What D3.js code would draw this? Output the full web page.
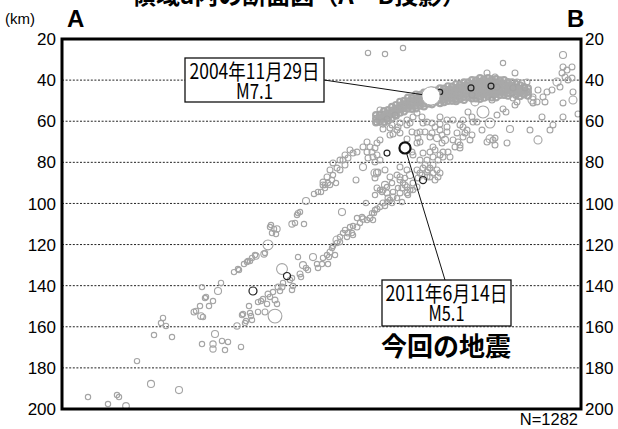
<!DOCTYPE html>
<html>
<head>
<meta charset="utf-8">
<script src="https://cdn.jsdelivr.net/npm/d3@7"></script>
<style>
  html, body { margin: 0; padding: 0; background: #fff; }
  svg { display: block; }
</style>
</head>
<body>
<div id="chart"></div>
<script>
// 領域a内の断面図（A－B投影） — 震源の深さ断面
// 各点は [A からの距離 km, 深さ km, マグニチュード]

var depthTicks = [20, 40, 60, 80, 100, 120, 140, 160, 180, 200];
var gridDepths = [40, 60, 80, 100, 120, 140, 160, 180];

// A側の深い部分
var deepWest = [
  [13,194.2,1.5],[23,197.6,1.5],[27.5,193.2,1.5],[28.5,194.2,1.5],[32,198.5,2.2],[37.5,176.7,1.5],
  [44.5,187.8,2.4],[58.5,190.8,2.4],[46,164,1.5],[50.5,155.7,1.5],[49.5,158.2,1.5],[52,159.6,1.5],
  [55,165,1.5],[66,152.8,1.8],[67,152.3,1.5],[69,149.9,1.5],[69.5,154.8,2.2],[71.5,146,1.5],
  [73.5,149.9,1.5],[75.5,147.5,1.5],[70,140.7,1.5],[78,142.6,2.4],[79.5,138.7,1.5],[70,168.4,1.5],
  [75.5,168.4,2],[75.5,170.8,2],[76.5,163.5,2.4],[80,166.9,1.5],[81.5,171.3,1.5],[83,167.4,1.5],
  [89.5,169.8,1.5],[86,133.4,1.5],[88.5,132.4,1.5],[91,129.5,1.5],[92.5,128.5,1.5],[94,128,1.5],
  [95,126.5,1.5],[97,125.6,2],[101,124.6,2],[103,120.2,3.9],[87.5,159.6,2],[90,154.3,1.5],
  [92,157.2,1.5],[91.5,158.2,1.5],[93.5,149.9,1.5],[94,153.3,1.5],[94.5,154.8,1.5],[95,156.7,1.5],
  [98,152.8,1.5],[98,148,1.5],[99.5,147.5,1.5],[100.5,146.5,1.5],[101.5,152.8,1.8],[102.5,148.9,1.5],
  [103,144.1,1.8],[104,145.5,1.5],[105.5,143.1,1.5],[106.5,147,1.8],[107.5,148.9,1.5],[106.5,154.8,5.6],
  [108,140.7,1.8],[109,142.6,1.5],[110,140.7,1.8],[110.5,138.7,1.5],[110,131.9,4.4],[114,137.2,1.5],
  [115,142.1,1.5],[115.5,140.2,1.5],[115,136.3,1.5],[118,126.1,1.5],[119,134.3,1.8],[119.5,135.8,1.5],
  [120.5,130,2.4],[122,131.4,1.5],[123,132.4,1.5],[125.5,126.1,2.4],[127.5,129.5,1.5],[128,131.4,1.5],
  [104,111.5,1.5],[106,112.4,1.5],[107.5,112.4,2],[105,114.4,1.5],[107,114.9,1.5],[115,110,2],
  [116.5,109.5,1.5],[121,110,1.5],[118,104.7,1.5],[119,104.2,1.5],[117.5,105.6,1.5],[122,98.8,2.4],
  [126,95.4,1.5],[128,94.4,1.5],[101.5,124.1,1.5],[96.5,125.1,1.5],[93,128,1.5],[88,131.9,1.5],
  [72,145.5,1.5],[70.5,155.2,1.5],[90.5,153.8,1.5],[104.5,110.5,1.5]
];

// 中央部（深さ 85〜130 km）
var midSection = [
  [135.5,86.2,1.5],[135,88.6,1.5],[133,90.1,1.5],[131.5,91,1.5],[134,91,1.5],[137,90.1,1.5],
  [129.5,94.4,1.5],[157.5,85.2,2.4],[147,88.6,1.8],[140,104.2,2.4],
  [130,129.5,1.5],[133,129.5,1.5],[133.5,126.1,1.5],[134,123.6,1.8],[135,121.7,1.5],[135.5,120.7,1.5],
  [137.5,117.8,2.9],[139,116.3,1.5],[140.5,114.4,1.5],[142.5,116.3,1.5],[143,114.4,1.8],[145.5,115.4,1.5],
  [145.5,111,1.5],[147.5,111.5,1.8],[149,109.5,1.5],[150.5,107.6,2],[152.5,108.1,1.5],[154,107.1,1.8],
  [155.5,108.1,1.5],[156,104.7,1.5],[157.5,102.7,1.8],[159,101.7,1.5],[160.5,99.8,1.8],[161.5,101.2,1.5],
  [162.5,99.3,1.5],[163,97.4,1.8],[165,99.8,1.5],[165.5,96.9,1.8],[167.5,97.4,1.5],[169,94.9,1.8],
  [168,92.5,1.5],[165.5,94.4,1.5],[161.5,91,2.4],[160,94.4,1.5],[156.5,95.9,1.5],[152,99.8,1.5],
  [170.5,90.1,1.5],[172.5,92,1.8],[173,95.9,1.5],[170,99.3,1.5],[175.5,93.5,1.5],[169,87.1,1.8],
  [171.5,87.6,1.5],[174,86.2,2.4],[144,111.5,1.5],[147.5,107.1,1.5],[150,106.6,1.5],[155,104.7,1.5],
  [156.5,103.2,1.5],[164,98.3,1.5],[162.5,92,1.5],[165,90.1,1.5],[159,93.5,1.5],[137.5,119.2,1.5],
  [132.5,125.1,1.5],[130.5,126.5,1.5],[136.5,125.1,1.5],[139,118.8,1.5],[145,114.4,1.5],[141.5,112.9,1.5],
  [131.5,92.5,1.5]
];

// 今回の地震の周辺（深さ 55〜95 km）
var nearSource = [
  [159,54.5,1.8],[160.5,60.9,2.9],[165,61.8,1.8],[169,60.9,1.8],[172.5,59.4,1.8],[177.5,56,1.8],
  [180,57.9,1.8],[182.5,60.4,1.8],[185,60.9,1.8],[179,65.2,1.8],[177.5,65.7,1.8],[169,65.7,1.8],
  [167.5,64.3,1.8],[164,63.3,1.8],[178,68.2,1.8],[179,70.1,1.8],[185,65.7,1.8],[187.5,68.2,2.4],
  [190,70.6,1.8],[191.5,69.1,2.4],[190.5,75,1.8],[193,75,1.8],[189,64.3,1.8],[192.5,62.8,1.8],
  [195.5,59.4,1.8],[200.5,62.8,1.8],[202.5,64.3,1.8],[205,66.7,1.8],[205.5,60.4,1.8],[203,55.5,1.8],
  [210.5,55.5,5],[206.5,50.6,2.9],[197.5,65.7,1.8],[198,70.1,1.8],[196.5,72.5,1.8],[199,73,1.8],
  [186.5,74,1.8],[185.5,77.4,1.8],[190.5,77.4,1.8],[188,78.9,1.8],[180.5,75.5,1.8],[175,75,1.8],
  [214,60.9,3.9],[212.5,70.1,1.8],[215.5,69.1,1.8],
  [159,69.1,1.8],[157.5,70.6,1.8],[152.5,70.1,1.8],[150.5,72.5,1.8],[154,72.5,1.8],[152.5,75,1.8],
  [155,75,1.8],[155.5,77.4,1.8],[153,77.9,1.8],[156.5,79.8,1.8],[157.5,76.4,1.8],[147.5,75,1.8],
  [145.5,75.5,1.8],[144,74,1.8],[141.5,76.4,1.8],[143,77.9,1.8],[139,78.9,1.8],[135.5,80.3,1.8],
  [137.5,82.8,1.8],[134,83.7,1.8],[132.5,87.1,1.8],[130.5,89.6,1.8],[150.5,82.3,2.4],[158,84.7,1.8],
  [156.5,87.6,1.8],[157.5,92.5,1.8],[160.5,93.5,1.8],[162.5,94.9,1.8],[169,88.6,1.8],[170,92.5,1.8],
  [171.5,91,1.8],[172.5,94.9,1.8],[174,93.5,1.8],
  [177.5,83.7,1.8],[179,85.2,1.8],[180.5,82.8,1.8],[182.5,84.7,1.8],[184,82.8,1.8],[185.5,85.2,1.8],
  [187.5,83.7,1.8],[188,87.1,1.8],[184,87.1,1.8],[182.5,87.1,1.8],[185.5,81.3,1.8],[178,87.6,1.8],
  [175.5,90.1,1.8],[177.5,92,1.8],[181.5,81.3,1.8],[186.5,88.6,1.8],[189,85.2,1.8],[180,86.2,1.8],
  [183,83.7,1.8],
  [162.5,58.9,1.8],[166.5,57,1.8],[168,62.8,1.8],[172.5,61.8,1.8],[165.5,66.2,1.8],[156.5,73,1.8],
  [159,78.9,1.8],[140.5,78.9,1.8],[141.5,81.3,1.8],[139,83.7,1.8],[130.5,91,1.8],[156.5,85.2,2.9],
  [169,82.3,1.8],[172.5,83.7,1.8],[164,87.1,1.8],[161.5,83.7,1.8],[167.5,86.2,1.8],
  [175.5,57.9,1.8],[189,61.4,1.8],[192.5,65.2,1.8],[199,61.8,1.8],[217.5,57,1.8],[220.5,54,1.8],
  [224,63.8,2.4],[227.5,50.6,1.8],[237.5,50.6,1.8],[200.5,67.7,1.8],[204,69.1,1.8],[214,68.6,2.9],
  [184,67.7,1.8],[172.5,68.6,1.8],[164,66.7,1.8],[160.5,63.8,1.8],[157.5,60.4,1.8]
];

// B側（浅い部分）
var eastSide = [
  [170.5,24.4,1.5],[153,26.8,1.5],[161.5,27.3,1.5],[220.5,31.7,1.5],[250.5,27.8,2.4],[250.5,33.6,1.8],
  [252.5,35.1,1.8],[255,33.6,1.8],[250,36.5,1.8],[251.5,38.5,1.8],[253,39.9,1.8],[255,39,1.8],
  [247.5,40.9,2.9],[249,43.4,1.8],[245,44.8,1.8],[255.5,45.8,1.8],[255.5,49.7,2.9],[258,56.5,1.8],
  [250.5,51.1,1.8],[242.5,45.8,1.8],[240.5,48.2,1.8],[241.5,50.6,1.8],[235,49.7,2.9],[235.5,51.1,1.8],
  [235.5,48.2,1.8],[238,44.8,1.8],[231.5,43.8,1.8],[230,41.4,1.8],[232.5,40.9,1.8],[226.5,36.5,1.8],
  [227.5,40.9,1.8],[225.5,43.8,1.8],[226.5,52.1,1.8],[222,55.5,1.8],[225.5,48.7,1.8],[216.5,38.5,1.8],
  [212.5,36.5,1.8],[217.5,43.4,1.8],[215,49.7,1.8],[205,47.2,1.8],[205,57.9,1.8],[207.5,60.4,1.8],
  [210,64.3,1.8],[200.5,59.4,1.8],[201.5,65.7,1.8],[199,71.6,1.8],[195.5,69.1,1.8],[192.5,59.4,1.8],
  [189,57.9,1.8],[186.5,62.8,1.8],[190,66.7,1.8],[185.5,72.5,1.8],[189,76.4,1.8],[194,77.4,1.8],
  [182.5,78.9,1.8],[184,75,1.8],[179,78.9,1.8],[175.5,76.4,1.8],[177.5,70.6,1.8],[175,65.2,1.8],
  [181.5,65.2,1.8],[180.5,60.9,1.8],[174,60.9,1.8],[222.5,70.6,1.8],[216.5,68.2,1.8],[216.5,71.6,1.8],
  [238,69.1,2.9],[250.5,57.9,1.8],[240,57.9,1.8],[244,64.3,1.8],[245.5,61.8,1.8],[234,64.3,1.8]
];

// 2004年の地震の周辺で密集している帯（距離, 深さ）
var bandMag = 1.8;
var denseBand = [
  [157,57.0],[157,58.8],[157,60.6],
  [159,56.7],[159,58.5],[159,60.3],
  [161,55.0],[161,56.8],[161,58.6],[161,60.4],
  [163,54.6],[163,56.4],[163,58.2],[163,59.8],
  [165,53.0],[165,54.8],[165,56.6],[165,58.4],
  [167,52.1],[167,53.9],[167,55.7],[167,57.3],
  [169,50.5],[169,52.3],[169,54.1],[169,55.9],
  [171,50.1],[171,51.9],[171,53.7],[171,55.3],
  [173,48.5],[173,50.3],[173,52.1],[173,53.9],
  [175,48.6],[175,50.4],[175,52.2],[175,54.0],
  [177,47.0],[177,48.8],[177,50.6],[177,52.4],[177,53.8],
  [179,47.1],[179,48.9],[179,50.7],[179,52.5],
  [181,46.0],[181,47.8],[181,49.6],[181,51.4],[181,52.8],
  [183,46.1],[183,47.9],[183,49.7],[183,51.5],
  [185,45.0],[185,46.8],[185,48.6],[185,50.4],[185,51.8],
  [187,45.1],[187,46.9],[187,48.7],[187,50.5],
  [189,44.0],[189,45.8],[189,47.6],[189,49.4],[189,51.2],
  [191,44.1],[191,45.9],[191,47.7],[191,49.5],[191,50.8],
  [193,43.0],[193,44.8],[193,46.6],[193,48.4],[193,50.2],
  [195,43.1],[195,44.9],[195,46.7],[195,48.5],[195,50.1],
  [197,42.0],[197,43.8],[197,45.6],[197,47.4],[197,49.2],[197,50.3],
  [199,42.1],[199,43.9],[199,45.7],[199,47.5],[199,49.3],
  [201,41.0],[201,42.8],[201,44.6],[201,46.4],[201,48.2],[201,49.7],
  [203,41.1],[203,42.9],[203,44.7],[203,46.5],[203,48.3],
  [205,40.0],[205,41.8],[205,43.6],[205,45.4],[205,47.2],[205,49.0],
  [207,40.1],[207,41.9],[207,43.7],[207,45.5],[207,47.3],[207,48.9],
  [209,39.0],[209,40.8],[209,42.6],[209,44.4],[209,46.2],[209,48.0],[209,49.2],
  [211,39.6],[211,41.4],[211,43.2],[211,45.0],[211,46.8],[211,48.6],
  [213,39.0],[213,40.8],[213,42.6],[213,44.4],[213,46.2],[213,48.0],
  [215,39.6],[215,41.4],[215,43.2],[215,45.0],[215,46.8],[215,48.5],
  [217,39.5],[217,41.3],[217,43.1],[217,44.9],[217,46.7],[217,48.4],
  [219,40.1],[219,41.9],[219,43.7],[219,45.5],[219,47.3],
  [221,40.0],[221,41.8],[221,43.6],[221,45.4],[221,47.2],
  [223,40.9],[223,42.7],[223,44.5],[223,46.3],[223,47.6],
  [225,41.0],[225,42.8],[225,44.6],[225,46.4],
  [227,41.9],[227,43.7],[227,45.5],[227,47.3],
  [229,42.5],[229,44.3],[229,46.1],[229,47.9],
  [231,43.4],[231,45.2],[231,47.0],
  [233,44.0],[233,45.8],[233,47.6]
];

// 黒丸で示された地震
var markedQuakes = [
  [162.5,75.5,1.8],[180.5,88.6,2.4],[204.5,43.8,1.8],[214.5,42.9,1.8],
  [189,45.8,1.5],[112.5,135.3,2.4],[95.5,142.6,2.9]
];

var mainEvents = [
  { date: '2004年11月29日', mag: 7.1, dist: 184.5, depth: 47.7 },
  { date: '2011年6月14日',  mag: 5.1, dist: 171.5, depth: 73.0 }
];

var totalCount = 1282;

(function () {
  'use strict';

  var W = 618, H = 429;
  var margin = { top: 39, right: 37, bottom: 20, left: 62 };
  var NUM_FONT = '"Liberation Sans", Arial, sans-serif';
  var JP_FONT = '"Noto Sans CJK JP", "Noto Sans", sans-serif';

  var x = d3.scaleLinear().domain([0, 259.5]).range([margin.left, W - margin.right]);
  var y = d3.scaleLinear().domain([20, 200]).range([margin.top, H - margin.bottom]);
  var r = d3.scaleLinear().domain([1, 5, 7]).range([2.2, 6, 9]);

  var svg = d3.select('#chart').append('svg')
    .attr('width', W)
    .attr('height', H)
    .attr('viewBox', '0 0 ' + W + ' ' + H);

  // タイトル（上端で切れている）
  svg.append('text')
    .attr('x', 132).attr('y', 4)
    .style('font-family', JP_FONT)
    .style('font-weight', 700)
    .style('font-size', '24px')
    .text('領域a内の断面図（A－B投影）');

  svg.append('text')
    .attr('x', 5).attr('y', 24)
    .style('font-family', NUM_FONT)
    .style('font-size', '15px')
    .text('(km)');

  svg.append('text')
    .attr('x', 67).attr('y', 27)
    .style('font-family', NUM_FONT)
    .style('font-weight', 700)
    .style('font-size', '24px')
    .text('A');

  svg.append('text')
    .attr('x', 567).attr('y', 27)
    .style('font-family', NUM_FONT)
    .style('font-weight', 700)
    .style('font-size', '24px')
    .text('B');

  // 点線のグリッド
  svg.append('g').selectAll('line').data(gridDepths).enter().append('line')
    .attr('x1', x.range()[0]).attr('x2', x.range()[1])
    .attr('y1', function (d) { return y(d); })
    .attr('y2', function (d) { return y(d); })
    .attr('stroke', '#222')
    .attr('stroke-width', 1)
    .attr('stroke-dasharray', '2,1.6');

  // 深さラベル（左右）
  function depthLabels(xPos, anchor) {
    svg.append('g').selectAll('text').data(depthTicks).enter().append('text')
      .attr('x', xPos)
      .attr('y', function (d) { return y(d); })
      .attr('dy', '0.36em')
      .attr('text-anchor', anchor)
      .style('font-family', NUM_FONT)
      .style('font-size', '17px')
      .text(function (d) { return d; });
  }
  depthLabels(x.range()[0] - 6, 'end');
  depthLabels(x.range()[1] + 4, 'start');

  var plot = svg.append('g');

  function quakes(cls, data, stroke, width) {
    plot.selectAll('circle.' + cls).data(data).enter().append('circle')
      .attr('class', cls)
      .attr('cx', function (d) { return x(d[0]); })
      .attr('cy', function (d) { return y(d[1]); })
      .attr('r', function (d) { return r(d[2]); })
      .attr('fill', 'none')
      .attr('stroke', stroke)
      .attr('stroke-width', width);
  }

  // 震源（灰色の丸）。密集帯は線を太くして面として見せる
  quakes('b', denseBand.map(function (p) { return [p[0], p[1], bandMag]; }), '#a8a8a8', 2.1);
  quakes('q', [].concat(deepWest, midSection, nearSource, eastSide), '#a4a4a4', 1.1);
  quakes('m', markedQuakes, '#222', 1.2);

  // 2004年 M7.1（白抜き）, 2011年 M5.1（黒太線）
  plot.append('circle')
    .attr('cx', x(mainEvents[0].dist)).attr('cy', y(mainEvents[0].depth))
    .attr('r', r(mainEvents[0].mag))
    .attr('fill', '#fff')
    .attr('stroke', '#a4a4a4')
    .attr('stroke-width', 1);

  plot.append('circle')
    .attr('cx', x(mainEvents[1].dist)).attr('cy', y(mainEvents[1].depth))
    .attr('r', r(mainEvents[1].mag) - 0.6)
    .attr('fill', '#fff')
    .attr('stroke', '#111')
    .attr('stroke-width', 2.2);

  // 枠
  svg.append('rect')
    .attr('x', x.range()[0]).attr('y', y.range()[0])
    .attr('width', x.range()[1] - x.range()[0])
    .attr('height', y.range()[1] - y.range()[0])
    .attr('fill', 'none')
    .attr('stroke', '#000')
    .attr('stroke-width', 3);

  // 吹き出し
  var callouts = [
    { ev: mainEvents[0], box: [185, 58, 139, 44], from: [324, 80], w1: 130, w2: 37 },
    { ev: mainEvents[1], box: [382, 280, 129, 46], from: [445, 280], w1: 122, w2: 36 }
  ];

  callouts.forEach(function (c) {
    var cx = x(c.ev.dist), cy = y(c.ev.depth), rad = r(c.ev.mag);
    var dx = cx - c.from[0], dy = cy - c.from[1];
    var len = Math.sqrt(dx * dx + dy * dy);
    svg.append('line')
      .attr('x1', c.from[0]).attr('y1', c.from[1])
      .attr('x2', cx - dx / len * rad).attr('y2', cy - dy / len * rad)
      .attr('stroke', '#111')
      .attr('stroke-width', 1);

    var bx = c.box[0], by = c.box[1], bw = c.box[2], bh = c.box[3];
    svg.append('rect')
      .attr('x', bx).attr('y', by).attr('width', bw).attr('height', bh)
      .attr('fill', '#fff')
      .attr('stroke', '#111')
      .attr('stroke-width', 1.3);

    var mid = bx + bw / 2;
    svg.append('text')
      .attr('x', mid).attr('y', by + 21)
      .attr('text-anchor', 'middle')
      .attr('textLength', c.w1)
      .attr('lengthAdjust', 'spacingAndGlyphs')
      .style('font-family', JP_FONT)
      .style('font-size', '21px')
      .text(c.ev.date);
    svg.append('text')
      .attr('x', mid).attr('y', by + 41)
      .attr('text-anchor', 'middle')
      .attr('textLength', c.w2)
      .attr('lengthAdjust', 'spacingAndGlyphs')
      .style('font-family', JP_FONT)
      .style('font-size', '21px')
      .text('M' + c.ev.mag.toFixed(1));
  });

  svg.append('text')
    .attr('x', 446).attr('y', 356)
    .attr('text-anchor', 'middle')
    .style('font-family', JP_FONT)
    .style('font-weight', 700)
    .style('font-size', '26px')
    .text('今回の地震');

  svg.append('text')
    .attr('x', 578).attr('y', 425)
    .attr('text-anchor', 'end')
    .style('font-family', NUM_FONT)
    .style('font-size', '16.5px')
    .text('N=' + totalCount);
})();
</script>
</body>
</html>
